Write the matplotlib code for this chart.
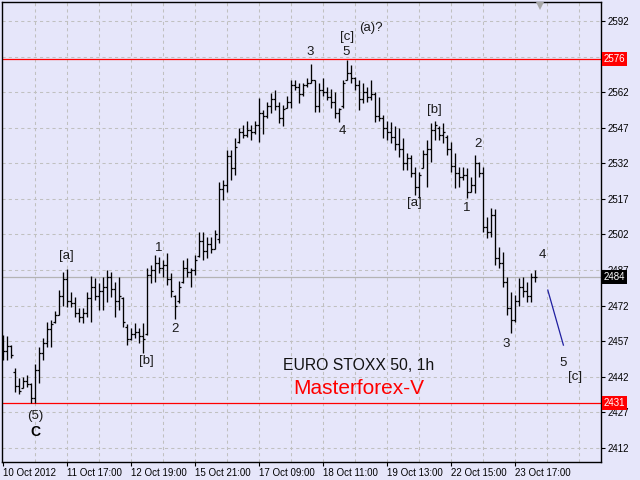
import matplotlib
matplotlib.use("Agg")
import matplotlib.pyplot as plt
import matplotlib.transforms as mtransforms
import numpy as np

matplotlib.rcParams['font.family'] = ['Liberation Sans', 'DejaVu Sans']

# hourly OHLC bars, EURO STOXX 50
bar_open = [2455, 2453, 2455, 2444, 2438, 2437, 2440, 2439, 2433, 2445,
            2452, 2456, 2462, 2465, 2468, 2476, 2483, 2474, 2473, 2469,
            2467, 2469, 2475, 2480, 2476, 2478, 2480, 2484, 2479, 2474,
            2475, 2463, 2458, 2460, 2461, 2459, 2460, 2485, 2487, 2490,
            2488, 2489, 2483, 2476, 2474, 2482, 2488, 2486, 2487, 2493,
            2499, 2495, 2498, 2496, 2500, 2521, 2523, 2535, 2530, 2541,
            2545, 2544, 2546, 2545, 2548, 2553, 2552, 2556, 2559, 2556,
            2551, 2555.5, 2558, 2565, 2564, 2561, 2565, 2566, 2567, 2556,
            2563, 2562, 2560, 2558, 2553, 2556, 2567, 2570, 2568, 2565,
            2559, 2562, 2560, 2561, 2552, 2551, 2547, 2545, 2543, 2540,
            2538, 2532, 2534, 2528, 2522, 2530, 2536, 2538, 2546, 2547,
            2544, 2543, 2538, 2531, 2528, 2526, 2527, 2520, 2523, 2532,
            2528, 2505, 2503, 2510, 2492, 2490, 2482, 2471, 2466, 2474,
            2480, 2478, 2476, 2484]
bar_high = [2459.5, 2459, 2455.5, 2445.5, 2441.5, 2442, 2442.5, 2439.5, 2447.5, 2454.5,
            2458.5, 2465, 2466, 2469.5, 2478.5, 2486, 2487.5, 2477.5, 2475.5, 2471,
            2471, 2477.5, 2484.5, 2483.5, 2481.5, 2484, 2487, 2486, 2482, 2484,
            2475.5, 2464, 2462.5, 2464.5, 2462.5, 2464.5, 2488, 2489, 2493.5, 2492.5,
            2491, 2494, 2485.5, 2476.5, 2482.5, 2491, 2492, 2488, 2493.5, 2503,
            2503, 2501, 2501, 2504, 2524, 2525, 2537.5, 2537.5, 2542.5, 2547,
            2548, 2550, 2548, 2550, 2559.5, 2554.5, 2558, 2561.5, 2563, 2558,
            2556.5, 2560.5, 2567, 2567, 2566, 2566, 2568, 2574, 2567, 2566,
            2568, 2564, 2563.5, 2562, 2555.5, 2567, 2575.5, 2573.5, 2568.5, 2567,
            2566, 2564, 2567, 2562, 2560, 2552.5, 2550, 2549.5, 2547.5, 2547,
            2542.5, 2536.5, 2535.5, 2530.5, 2528.5, 2537.5, 2542, 2549, 2550, 2547.5,
            2549, 2544, 2541, 2536.5, 2530.5, 2530.5, 2530, 2526, 2535.5, 2532.5,
            2530.5, 2509.5, 2513, 2512.5, 2496.5, 2494.5, 2484, 2477.5, 2476.5, 2483.5,
            2484, 2482, 2485.5, 2487]
bar_low = [2449, 2449, 2450, 2435.5, 2434.5, 2437, 2437.5, 2431, 2431, 2439.5,
           2449, 2454.5, 2454.5, 2464.5, 2468, 2472, 2471.5, 2471.5, 2467, 2465,
           2464.5, 2467, 2465, 2474.5, 2470, 2470, 2473.5, 2475.5, 2467, 2470,
           2463, 2455.5, 2457.5, 2458.5, 2456, 2452, 2459.5, 2481.5, 2482, 2485.5,
           2484, 2480.5, 2475.5, 2466.5, 2473, 2481.5, 2484, 2480, 2485, 2492.5,
           2491, 2492, 2494, 2496, 2498.5, 2516.5, 2520, 2525, 2527, 2540.5,
           2542.5, 2543, 2542, 2544.5, 2541, 2544.5, 2551, 2553, 2554.5, 2549,
           2547.5, 2555.5, 2555.5, 2563, 2557.5, 2560.5, 2564, 2566, 2553.5, 2553.5,
           2560.5, 2558.5, 2555.5, 2551, 2549.5, 2555.5, 2567, 2566, 2563, 2554.5,
           2557.5, 2558, 2558.5, 2549.5, 2550, 2542.5, 2542, 2540.5, 2537.5, 2534.5,
           2529, 2529, 2526, 2518.5, 2517.5, 2530, 2522, 2532.5, 2542, 2542,
           2540.5, 2535.5, 2528.5, 2521.5, 2522, 2525, 2517.5, 2520, 2519.5, 2526,
           2503, 2500.5, 2501, 2489, 2488, 2480, 2468, 2460.5, 2465, 2472,
           2475.5, 2473.5, 2473.5, 2482]
bar_close = [2453, 2455, 2451, 2438, 2436, 2440, 2439, 2433, 2445, 2452,
             2456, 2462, 2464, 2468, 2476, 2483, 2474, 2473, 2469, 2467,
             2469, 2475, 2480, 2476, 2478, 2480, 2484, 2479, 2474, 2476,
             2465, 2458, 2460, 2461, 2459, 2458, 2485, 2487, 2490, 2488,
             2489, 2483, 2478, 2472, 2480, 2488, 2486, 2487, 2491, 2499,
             2495, 2498, 2496, 2502, 2521, 2523, 2535, 2530, 2539, 2545,
             2544, 2546, 2545, 2548, 2553, 2552, 2556, 2559, 2556, 2551,
             2555, 2558, 2565, 2564, 2561, 2565, 2566, 2567, 2556, 2563,
             2562, 2560, 2558, 2553, 2555, 2566, 2570, 2568, 2565, 2559,
             2562, 2560, 2561, 2552, 2551, 2547, 2545, 2543, 2540, 2538,
             2532, 2534, 2528, 2522, 2527, 2536, 2538, 2546, 2548, 2544,
             2545, 2538, 2531, 2528, 2526, 2527, 2520, 2523, 2532, 2528,
             2505, 2503, 2510, 2492, 2490, 2482, 2471, 2466, 2474, 2480,
             2478, 2476, 2484, 2484]

time_labels = ["10 Oct 2012", "11 Oct 17:00", "12 Oct 19:00", "15 Oct 21:00",
               "17 Oct 09:00", "18 Oct 11:00", "19 Oct 13:00", "22 Oct 15:00",
               "23 Oct 17:00"]
price_ticks = [2412, 2427, 2442, 2457, 2472, 2487, 2502, 2517, 2532, 2547,
               2562, 2577, 2592]

level_high = 2576
level_low = 2431
bid = 2484

# projected wave 5 of [c]
proj_x = [136.2, 140.1]
proj_y = [2478.5, 2455.3]

# wave marks: text, bar position, price position
wave_text = ["(5)", "[a]", "[b]", "1", "2", "3", "4", "5", "[c]", "(a)?",
             "[a]", "[b]", "1", "2", "3", "4", "5", "[c]"]
wave_x = [8.0, 15.75, 35.9, 39.0, 42.9, 76.75, 84.9, 85.8, 85.9, 92.0,
          102.9, 107.9, 116.0, 118.75, 125.75, 134.9, 139.9, 142.9]
wave_y = [2425.4, 2492.9, 2448.6, 2496.2, 2462.1, 2579.1, 2545.4, 2579.1, 2585.2, 2589.0,
          2515.2, 2554.4, 2513.1, 2540.1, 2455.8, 2493.1, 2447.8, 2441.9]

BG = "#E6E6FA"
GRID = "#C0C0C0"

fig = plt.figure(figsize=(6.4, 4.8), dpi=100, facecolor=BG)
ax = fig.add_axes([2 / 640, 18 / 480, 599 / 640, 460 / 480], facecolor=BG)

"""
Range
"""
ax.set_xlim(-0.25, 149.5)
ax.set_ylim(2406, 2600)

"""
Grid
"""
for p in price_ticks:
    ax.axhline(p, color=GRID, lw=0.75, linestyle=(0, (3, 3)), zorder=1)
for i in range(8, 150, 8):
    ax.axvline(i, color=GRID, lw=0.75, linestyle=(0, (3, 3)), zorder=1)

"""
Levels
"""
ax.axhline(level_high, color="red", lw=0.9, zorder=2)
ax.axhline(level_low, color="red", lw=0.9, zorder=2)
ax.axhline(bid, color="#B4B4B4", lw=0.9, zorder=2)

"""
Bars
"""
xs = np.arange(len(bar_close))
ax.vlines(xs, bar_low, bar_high, color="black", lw=0.95, zorder=3)
ax.hlines(bar_open, xs - 0.45, xs, color="black", lw=0.9, zorder=3)
ax.hlines(bar_close, xs, xs + 0.45, color="black", lw=0.9, zorder=3)

ax.plot(proj_x, proj_y, color="#1F1FA0", lw=0.9, zorder=3)

"""
Labels
"""
for t, x, y in zip(wave_text, wave_x, wave_y):
    ax.text(x, y, t, ha="center", va="center", fontsize=9.5, color="#1A1A1A", zorder=4)
ax.text(8.0, 2418.7, "C", ha="center", va="center", fontsize=10,
        fontweight="bold", color="black", zorder=4)

ax.text(88.9, 2446.5, "EURO STOXX 50, 1h", ha="center", va="center",
        fontsize=11.3, color="#111111", zorder=4)
ax.text(89.0, 2436.8, "Masterforex-V", ha="center", va="center",
        fontsize=15, color="red", zorder=4)

# chart shift marker
ax.plot([134.25], [0.991], marker="v", markersize=6, color="#A8A8A8",
        markeredgewidth=0,
        transform=mtransforms.blended_transform_factory(ax.transData, ax.transAxes),
        clip_on=False, zorder=5)

"""
Axes
"""
ax.yaxis.tick_right()
ax.set_yticks(price_ticks)
# 2577 sits under the 2576 level box
ax.set_yticklabels(["" if p == 2577 else str(p) for p in price_ticks])
ax.tick_params(axis="y", length=3, width=0.8, pad=2, labelsize=7, colors="black")

ax.set_xticks([16 * k for k in range(len(time_labels))])
ax.set_xticklabels(time_labels, ha="left")
ax.tick_params(axis="x", length=3, width=0.8, pad=1.5, labelsize=7, colors="black")

for s in ax.spines.values():
    s.set_color("black")
    s.set_linewidth(1.0)

trans = mtransforms.blended_transform_factory(ax.transAxes, ax.transData)
for val, bg in [(level_high, "red"), (level_low, "red"), (bid, "black")]:
    ax.text(1.0045, val, str(val), transform=trans, ha="left", va="center",
            fontsize=7, color="white", zorder=6, clip_on=False,
            bbox=dict(facecolor=bg, edgecolor="none", pad=1.3))

plt.savefig("out.png", dpi=100, facecolor=BG)
plt.close()
